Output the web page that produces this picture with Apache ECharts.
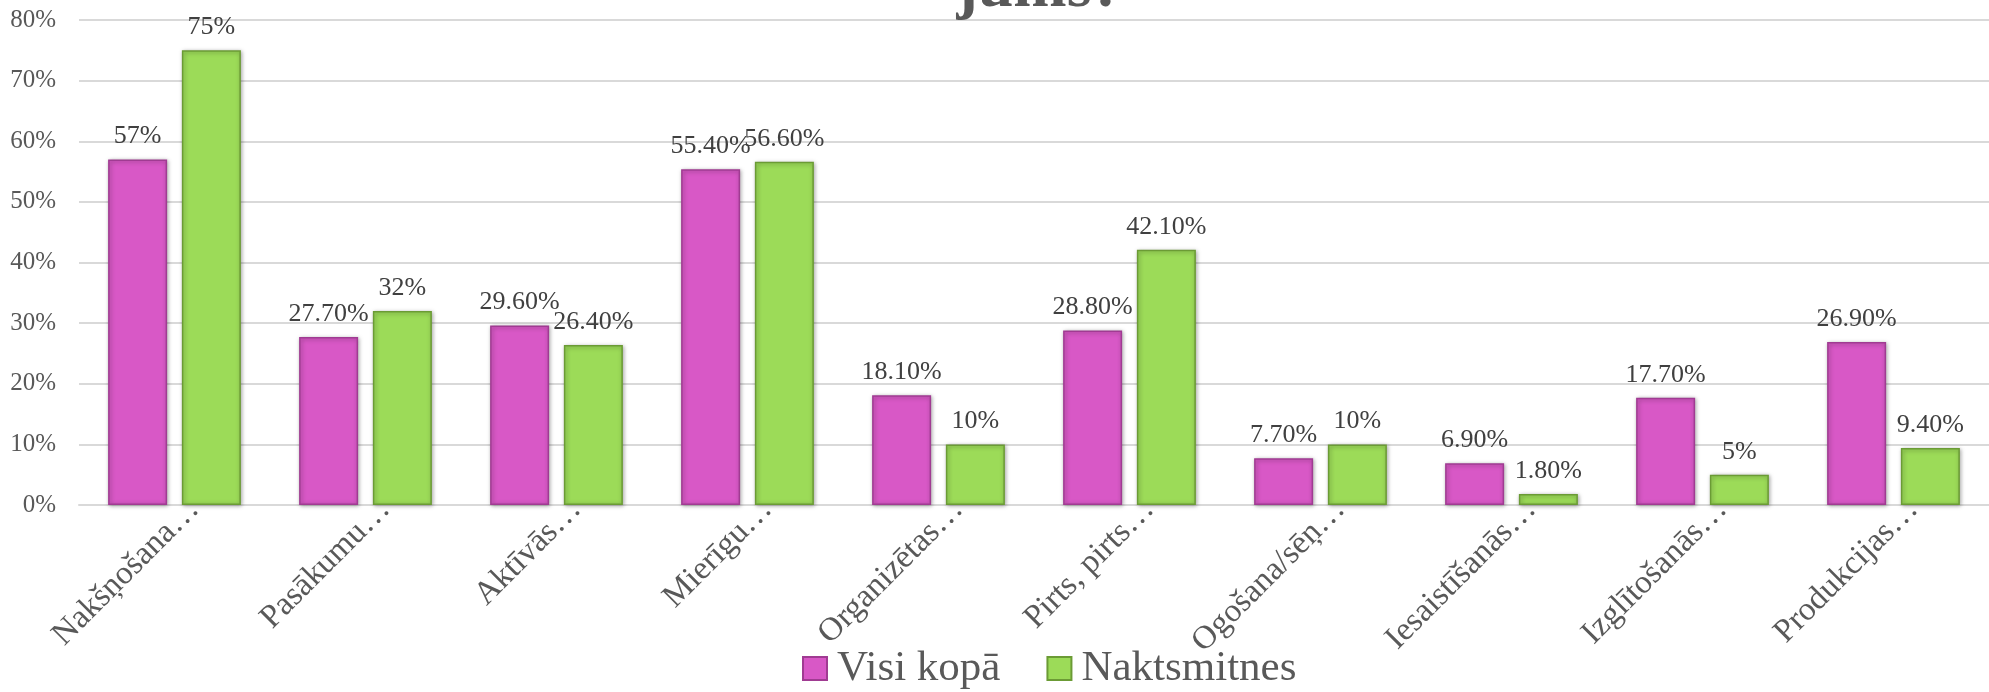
<!DOCTYPE html>
<html>
<head>
<meta charset="utf-8">
<script src="https://cdn.jsdelivr.net/npm/echarts@6/dist/echarts.min.js"></script>
<style>
  html, body { margin: 0; padding: 0; background: #fff; }
  #chart { width: 1989px; height: 692px; }
</style>
</head>
<body>
<div id="chart"></div>
<script>
const categories = [
  "Nakšņošana…", "Pasākumu…", "Aktīvās…", "Mierīgu…", "Organizētas…",
  "Pirts, pirts…", "Ogošana/sēņ…", "Iesaistīšanās…", "Izglītošanās…", "Produkcijas…"
];
const visiKopa = [57, 27.7, 29.6, 55.4, 18.1, 28.8, 7.7, 6.9, 17.7, 26.9];
const naktsmitnes = [75, 32, 26.4, 56.6, 10, 42.1, 10, 1.8, 5, 9.4];
const yTicks = [0, 10, 20, 30, 40, 50, 60, 70, 80];

const FONT = "Liberation Serif";

function pct(v) {
  return Number.isInteger(v) ? `${v}%` : `${v.toFixed(2)}%`;
}

function barSeries(name, data, fill, edge) {
  return {
    name: name,
    type: "bar",
    data: data,
    barWidth: 59,
    barGap: "25%",
    itemStyle: {
      color: fill,
      borderColor: edge,
      borderWidth: 1.5,
      shadowBlur: 4,
      shadowColor: "rgba(0,0,0,0.35)",
      shadowOffsetX: 1,
      shadowOffsetY: 1,
    },
    label: {
      show: true,
      position: "top",
      distance: 10,
      fontFamily: FONT,
      fontSize: 26,
      color: "#404040",
      formatter: (p) => pct(p.value),
    },
  };
}

let myChart = echarts.init(document.getElementById("chart"));

let option = {
  animation: false,
  title: {
    text: "jums?",
    left: 1035,
    textAlign: "center",
    top: -48,
    textStyle: {
      fontFamily: FONT,
      fontSize: 64,
      fontWeight: "bold",
      color: "#595959",
    },
  },
  legend: {
    left: 802,
    top: 647,
    padding: 0,
    itemWidth: 24,
    itemHeight: 23,
    itemGap: 46,
    icon: "rect",
    textStyle: {
      fontFamily: FONT,
      fontSize: 43,
      color: "#595959",
      padding: [0, 0, 0, 5],
    },
    data: ["Visi kopā", "Naktsmitnes"],
  },
  grid: {
    left: 79,
    right: -10,
    top: 20,
    bottom: 187,
    containLabel: false,
  },
  xAxis: {
    type: "category",
    data: categories,
    axisLine: { lineStyle: { color: "#D9D9D9", width: 2 } },
    axisTick: { show: false },
    axisLabel: {
      rotate: 45,
      interval: 0,
      margin: 19,
      fontFamily: FONT,
      fontSize: 33,
      color: "#595959",
      padding: [0, -28, 0, 0],
    },
  },
  yAxis: {
    type: "value",
    min: yTicks[0],
    max: yTicks[yTicks.length - 1],
    interval: 10,
    axisLine: { show: false },
    axisTick: { show: false },
    splitLine: { lineStyle: { color: "#D9D9D9", width: 2 } },
    axisLabel: {
      margin: 23,
      fontFamily: FONT,
      fontSize: 25,
      color: "#595959",
      formatter: (v) => `${v}%`,
    },
  },
  series: [
    barSeries("Visi kopā", visiKopa, "#D858C6", "#A03B92"),
    barSeries("Naktsmitnes", naktsmitnes, "#9CDB58", "#6B9B35"),
  ],
};

option && myChart.setOption(option);
</script>
</body>
</html>
